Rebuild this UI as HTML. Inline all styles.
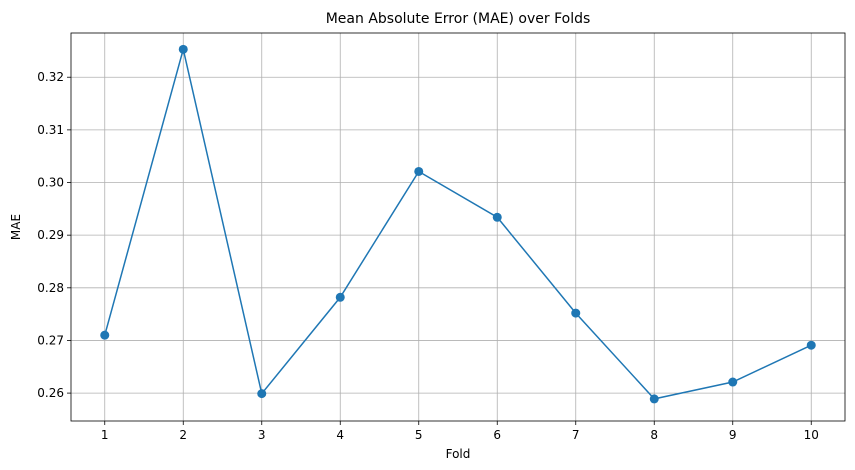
<!DOCTYPE html>
<html><head><meta charset="utf-8"><style>
body{margin:0;background:#fff;}
svg{display:block;font-family:"DejaVu Sans","Liberation Sans",sans-serif;}
</style></head><body>
<svg id="chart" width="855" height="470"></svg>
<script>
const folds=[1,2,3,4,5,6,7,8,9,10];
const maeValues=[0.2710,0.3253,0.2599,0.2782,0.3021,0.2934,0.2752,0.2589,0.2621,0.2691];
const yTicks=[0.26,0.27,0.28,0.29,0.30,0.31,0.32];
const yTickLabels=["0.26","0.27","0.28","0.29","0.30","0.31","0.32"];

const L=71,R=845,T=33,B=421;
const yMin=0.2547,yMax=0.3284;
const xMin=0.57,xMax=10.43;
const sx=v=>L+(v-xMin)/(xMax-xMin)*(R-L);
const sy=v=>B-(v-yMin)/(yMax-yMin)*(B-T);
const svg=document.getElementById('chart');
const NS='http://www.w3.org/2000/svg';
function mk(tag,attrs,parent){const e=document.createElementNS(NS,tag);for(const k in attrs)e.setAttribute(k,attrs[k]);(parent||svg).appendChild(e);return e;}

const grid=mk('g',{});


folds.forEach(f=>{
  const x=sx(f);
  mk('line',{x1:x,x2:x,y1:T,y2:B,stroke:'#b0b0b0','stroke-width':0.8},grid);
  mk('line',{x1:x,x2:x,y1:B,y2:B+4,stroke:'#000','stroke-width':0.8});
  const t=mk('text',{x:x,y:B+18,'text-anchor':'middle','font-size':12,fill:'#000'});
  t.textContent=f;
  
  
});
yTicks.forEach((v,i)=>{
  const y=sy(v);
  mk('line',{x1:L,x2:R,y1:y,y2:y,stroke:'#b0b0b0','stroke-width':0.8},grid);
  mk('line',{x1:L-4,x2:L,y1:y,y2:y,stroke:'#000','stroke-width':0.8});
  const t=mk('text',{x:L-7,y:y+4,'text-anchor':'end','font-size':12,fill:'#000'});
  t.textContent=yTickLabels[i];
  
  
});
const frame=mk('rect',{x:L,y:T,width:R-L,height:B-T,fill:'none',stroke:'#000','stroke-width':0.8});



const pts=folds.map((f,i)=>sx(f)+','+sy(maeValues[i])).join(' ');
const line=mk('polyline',{points:pts,fill:'none',stroke:'#1f77b4','stroke-width':1.5});


folds.forEach((f,i)=>{
  const c=mk('circle',{cx:sx(f),cy:sy(maeValues[i]),r:4.5,fill:'#1f77b4'});
  
  
});

const title=mk('text',{x:(L+R)/2,y:23,'text-anchor':'middle','font-size':14,fill:'#000'});
title.textContent='Mean Absolute Error (MAE) over Folds';


const xl=mk('text',{x:(L+R)/2,y:458,'text-anchor':'middle','font-size':12,fill:'#000'});
xl.textContent='Fold';


const yl=mk('text',{x:20,y:(T+B)/2,'text-anchor':'middle','font-size':12,fill:'#000',transform:'rotate(-90 20 '+((T+B)/2)+')'});
yl.textContent='MAE';


</script>
</body></html>
